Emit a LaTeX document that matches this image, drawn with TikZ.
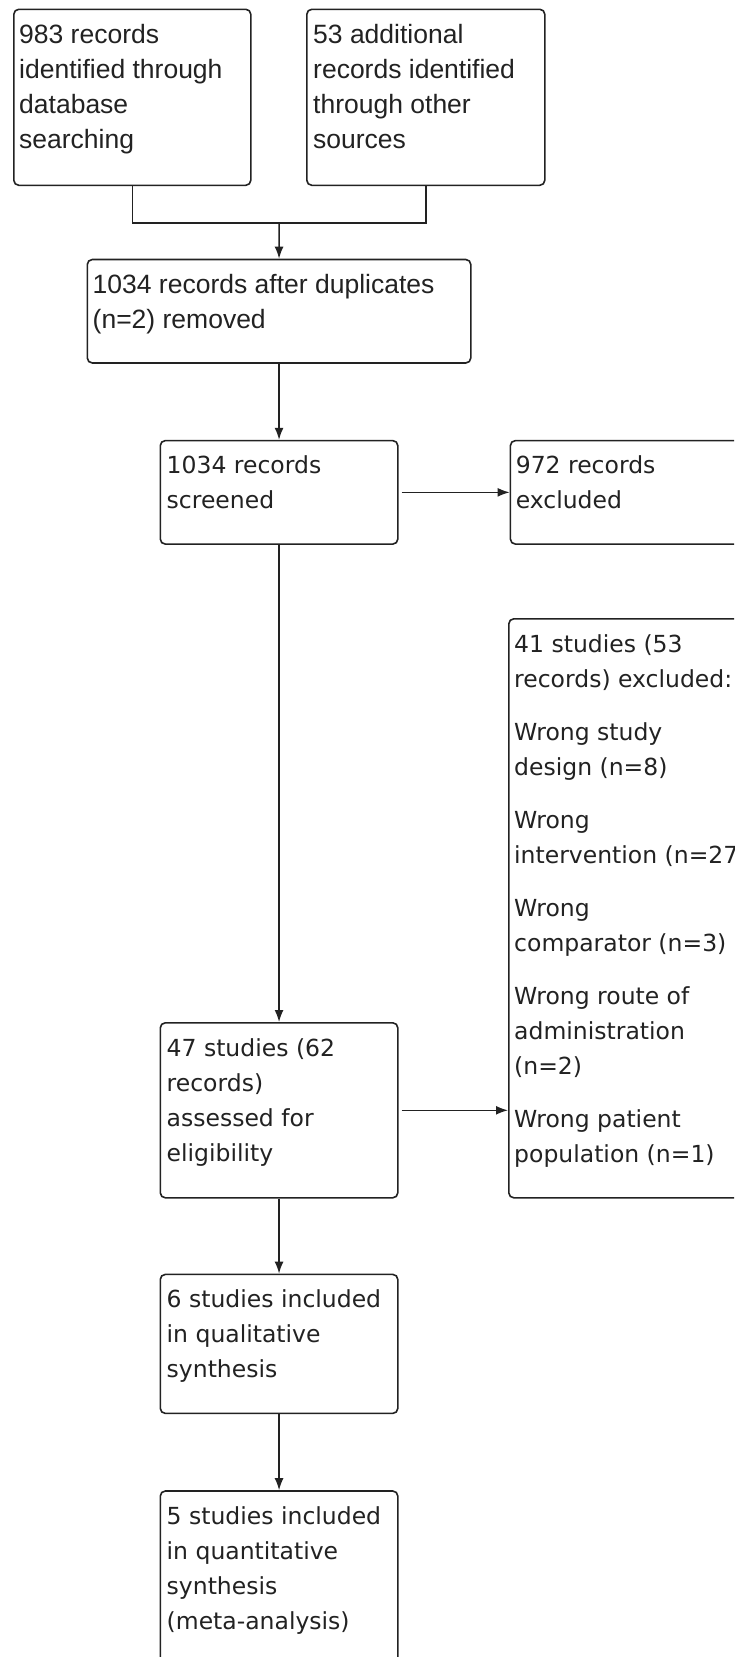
\documentclass[tikz,border=0pt]{standalone}
\usepackage{fontspec}
\newfontfamily\arialfont{Liberation Sans}
\newfontfamily\dejavufont{DejaVu Sans}
\usetikzlibrary{arrows.meta, positioning, calc}
\definecolor{inkgray}{HTML}{222222}

\begin{document}
\begin{tikzpicture}[
      x=1pt, y=1pt,
      box/.style={rectangle, draw=inkgray, line width=1.6pt, rounded corners=5pt, anchor=north west, inner sep=0pt},
      txta/.style={anchor=north west, inner sep=0pt, align=left, text=inkgray, execute at begin node=\strut, font={\arialfont\fontsize{26.5}{35}\selectfont}},
      txtb/.style={anchor=north west, inner sep=0pt, align=left, text=inkgray, execute at begin node=\strut, font={\dejavufont\fontsize{23.5}{35}\selectfont}},
      link/.style={line width=1.5pt, draw=inkgray},
      arrow/.style={-{Latex[length=12pt, width=9pt]}, line width=1.5pt, draw=inkgray}
    ]
    \useasboundingbox (0,0) rectangle (734,-1657);
    \fill[white] (0,0) rectangle (734,-1657);
    \clip (0,0) rectangle (734,-1657);

    % identification
    \node[box, minimum width=237, minimum height=176] (dbrec) at (13,-8.5) {};
    \node[txta] (dbrec-t) at ($(dbrec.north west)+(6,-16)$) {983 records\\identified through\\database\\searching};
    \node[box, minimum width=238, minimum height=176] (othrec) at (306,-8.5) {};
    \node[txta] (othrec-t) at ($(othrec.north west)+(7,-16)$) {53 additional\\records identified\\through other\\sources};

    \node[box, minimum width=383.5, minimum height=103.5] (dedup) at (86.5,-258.7) {};
    \node[txta] (dedup-t) at ($(dedup.north west)+(6,-15)$) {1034 records after duplicates\\(n=2) removed};

    % screening
    \node[box, minimum width=237.5, minimum height=103.5, below=76pt of dedup] (screen) {};
    \node[txtb] (screen-t) at ($(screen.north west)+(7,-16)$) {1034 records\\screened};
    \node[box, minimum width=260, minimum height=103.5, right=111pt of screen] (excl) {};
    \node[txtb] (excl-t) at ($(excl.north west)+(6,-16)$) {972 records\\excluded};

    % eligibility
    \node[box, minimum width=260, minimum height=579] (ftexcl) at (508,-618) {};
    \node[txtb] (ftexcl-t) at ($(ftexcl.north west)+(6,-16)$) {41 studies (53\\records) excluded:\\[18pt]
      Wrong study\\design (n=8)\\[18pt]
      Wrong\\intervention (n=27)\\[18pt]
      Wrong\\comparator (n=3)\\[18pt]
      Wrong route of\\administration\\(n=2)\\[18pt]
      Wrong patient\\population (n=1)};
    \node[box, minimum width=237.5, minimum height=175] (elig) at (159.5,-1022) {};
    \node[txtb] (elig-t) at ($(elig.north west)+(7,-16)$) {47 studies (62\\records)\\assessed for\\eligibility};

    % included
    \node[box, minimum width=237.5, minimum height=139, below=75pt of elig] (qual) {};
    \node[txtb] (qual-t) at ($(qual.north west)+(7,-16)$) {6 studies included\\in qualitative\\synthesis};
    \node[box, minimum width=237.5, minimum height=230, below=76pt of qual] (quant) {};
    \node[txtb] (quant-t) at ($(quant.north west)+(7,-16)$) {5 studies included\\in quantitative\\synthesis\\(meta-analysis)};

    \coordinate (join) at ($(dbrec.south)!0.5!(othrec.south)+(0,-37)$);
    \draw[link] (dbrec.south) |- (join) -| (othrec.south);
    \draw[arrow] (join) -- (dedup.north);
    \draw[arrow] (dedup) -- (screen);
    \draw[arrow, shorten <=3pt] (screen) -- (excl);
    \draw[arrow] (screen) -- (elig);
    \draw[arrow, shorten <=3pt] (elig.east) -- (elig.east -| ftexcl.west);
    \draw[arrow] (elig) -- (qual);
    \draw[arrow] (qual) -- (quant);
  \end{tikzpicture}
\end{document}
